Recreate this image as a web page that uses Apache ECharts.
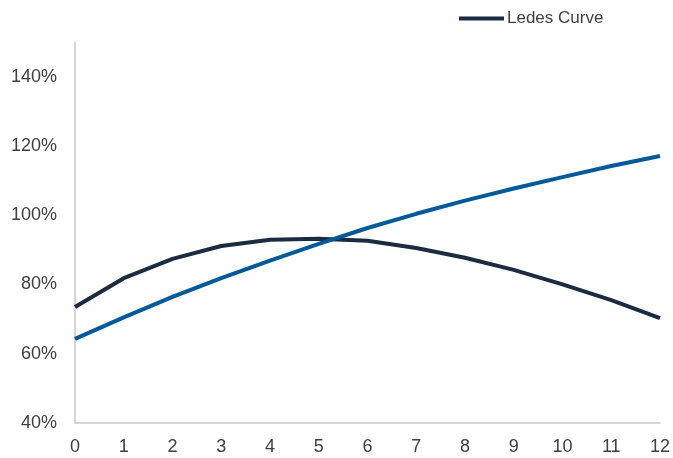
<!DOCTYPE html>
<html>
<head>
<meta charset="utf-8">
<script src="https://cdn.jsdelivr.net/npm/echarts@6/dist/echarts.min.js"></script>
<style>
  html, body { margin: 0; padding: 0; background: #fff; }
  #chart { width: 673px; height: 458px; }
</style>
</head>
<body>
<div id="chart"></div>
<script>
// Years on the horizontal axis
const years = ['0', '1', '2', '3', '4', '5', '6', '7', '8', '9', '10', '11', '12'];

// Ledes curve (percent)
const ledesCurve = [73.5, 81.8, 87.4, 91.1, 92.9, 93.2, 92.6, 90.5, 87.7, 84.2, 80.0, 75.5, 70.3];

// Comparison curve (percent)
const comparisonCurve = [64.3, 70.5, 76.4, 81.8, 86.9, 91.7, 96.3, 100.4, 104.2, 107.7, 111.0, 114.2, 117.1];

// Value axis range
const yMin = 40, yMax = 150, yStep = 20;

const chart = echarts.init(document.getElementById('chart'), null, { renderer: 'canvas' });

chart.setOption({
  animation: false,
  backgroundColor: '#ffffff',
  grid: { left: 75, right: 12, top: 42, bottom: 35, containLabel: false },
  legend: {
    data: ['Ledes Curve'],
    left: 454,
    top: 5,
    itemWidth: 45,
    itemHeight: 18,
    icon: 'path://M0,7 L45,7 L45,11 L0,11 Z',
    textStyle: { fontFamily: 'Liberation Sans, Arial, sans-serif', fontSize: 17, color: '#404040', padding: [0, 0, 0, -2] }
  },
  xAxis: {
    type: 'category',
    data: years,
    boundaryGap: false,
    axisLine: { lineStyle: { color: '#c8c8c8', width: 1.5 } },
    axisTick: { show: false },
    splitLine: { show: false },
    axisLabel: {
      margin: 15,
      fontFamily: 'Liberation Sans, Arial, sans-serif',
      fontSize: 18,
      color: '#404040'
    }
  },
  yAxis: {
    type: 'value',
    min: yMin,
    max: yMax,
    interval: yStep,
    axisLine: { show: true, lineStyle: { color: '#c8c8c8', width: 1.5 } },
    axisTick: { show: false },
    splitLine: { show: false },
    axisLabel: {
      margin: 18,
      showMaxLabel: false,
      formatter: '{value}%',
      fontFamily: 'Liberation Sans, Arial, sans-serif',
      fontSize: 18,
      color: '#404040'
    }
  },
  series: [
    {
      name: 'Ledes Curve',
      type: 'line',
      data: ledesCurve,
      symbol: 'none',
      smooth: false,
      lineStyle: { color: '#1b2b40', width: 4 },
      itemStyle: { color: '#1b2b40' },
      z: 3
    },
    {
      name: 'Comparison',
      type: 'line',
      data: comparisonCurve,
      symbol: 'none',
      smooth: false,
      lineStyle: { color: '#005a9a', width: 4 },
      itemStyle: { color: '#005a9a' },
      z: 4
    }
  ]
});
</script>
</body>
</html>
